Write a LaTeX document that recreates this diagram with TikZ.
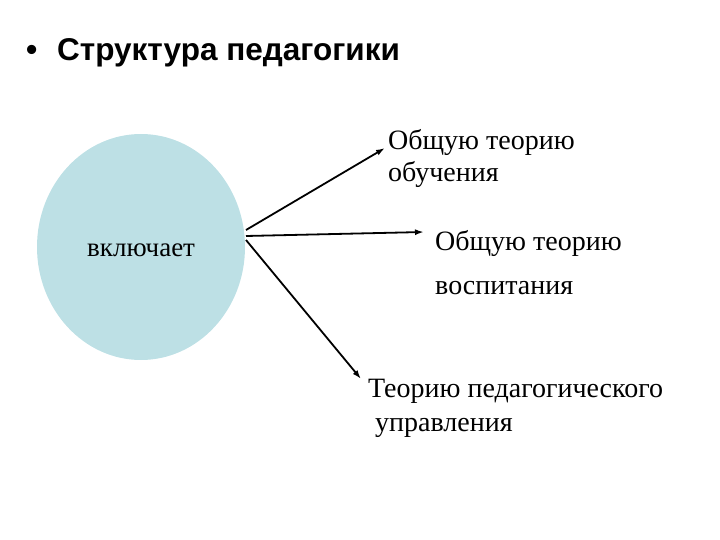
\documentclass[tikz,border=0pt]{standalone}
\usepackage{fontspec}
\usetikzlibrary{shapes.geometric,arrows.meta}
\setmainfont{Liberation Serif}
\newfontfamily\titlefont{Liberation Sans}
\definecolor{ballblue}{HTML}{BDE0E5}
\begin{document}
\begin{tikzpicture}[x=1pt,y=-1pt,
  txt/.style={anchor=base west,inner sep=0pt,font=\fontsize{28}{28}\selectfont},
  arr/.style={-{Latex[length=9pt,width=6pt]},line width=1.8pt}]
\useasboundingbox (0,0) rectangle (720,540);
\node[anchor=base west,inner sep=0pt,font=\titlefont\bfseries\fontsize{32}{32}\selectfont] (bul) at (26,61) {•};
\node[anchor=base west,inner sep=0pt,font=\titlefont\bfseries\fontsize{31.5}{32}\selectfont] (title) at (57,61) {Структура педагогики};
\node[ellipse,fill=ballblue,minimum width=208,minimum height=226,inner sep=0pt,draw=none] (ball) at (141,247) {};
\node[anchor=base west,inner sep=0pt,font=\fontsize{27}{27}\selectfont] (incl) at (87,256) {включает};
\node[txt] (t1a) at (388,150) {Общую теорию};
\node[txt] (t1b) at (388,182) {обучения};
\node[txt] (t2a) at (435,251) {Общую теорию};
\node[txt] (t2b) at (435,294) {воспитания};
\node[txt] (t3a) at (368,397) {Теорию педагогического};
\node[txt] (t3b) at (375,431) {управления};
\coordinate (s1) at (246,230);
\coordinate (s2) at (246,236);
\coordinate (s3) at (246,240);
\coordinate (e1) at (385,148);
\coordinate (e2) at (424,232);
\coordinate (e3) at (361,379);
\draw[arr] (s1) -- (e1);
\draw[arr] (s2) -- (e2);
\draw[arr] (s3) -- (e3);
\end{tikzpicture}
\end{document}
